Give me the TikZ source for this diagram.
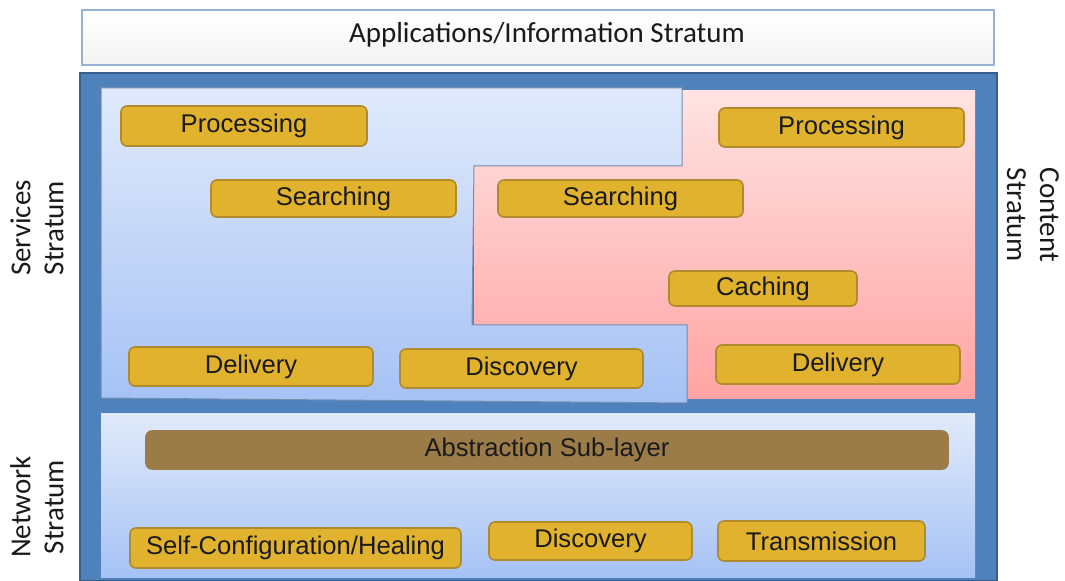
\documentclass[tikz,border=0pt]{standalone}
\usepackage{fontspec}
\newfontfamily\calfont{Carlito}
\newfontfamily\arialfont{Liberation Sans}
\usepackage{tikz}
\definecolor{frameblue}{HTML}{4F81BD}
\definecolor{frameline}{HTML}{385D8A}
\definecolor{paleblue}{HTML}{E1EAFB}
\definecolor{skyblue}{HTML}{A5C2F5}
\definecolor{palepink}{HTML}{FFE3E3}
\definecolor{rosepink}{HTML}{FFA3A3}
\definecolor{tileyellow}{HTML}{E0B22E}
\definecolor{tileline}{HTML}{B08A2C}
\definecolor{barbrown}{HTML}{9B7B48}
\definecolor{inkgray}{HTML}{1A1A1A}
\newcommand{\Frame}{(80,73) rectangle (997,581)}
\newcommand{\Content}{(474,91) rectangle (975,399)}
\newcommand{\Services}{(101,88) -- (682,88) -- (682,166) -- (474,166) -- (472,325) -- (687,325) -- (687,403) -- (101,398) -- cycle}
\newcommand{\Network}{(101,414) rectangle (975,578)}

\tikzset{
  tile/.style={draw=tileline, fill=tileyellow, line width=0.8pt, rounded corners=3pt,
    inner sep=0pt, text=inkgray, font=\arialfont\fontsize{12.8}{14}\selectfont},
  stratum/.style={text=inkgray, align=center, font=\calfont\fontsize{14.5}{16.5}\selectfont}
}

\begin{document}
\begin{tikzpicture}[x=0.5pt,y=-0.5pt]
\useasboundingbox (0,0) rectangle (1065,581);
% top stratum
\shade[top color=white, bottom color=black!5, draw=frameblue!60, line width=0.6pt] (82,10) rectangle (994,65);
\node[stratum] (apps) at (547,35) {Applications/Information Stratum};
% big frame
\fill[frameblue] \Frame;
\draw[frameline, line width=0.8pt] \Frame;
\shade[top color=palepink, bottom color=rosepink] \Content;
\shade[top color=paleblue, bottom color=skyblue, draw=frameline!70, line width=0.5pt] \Services;
\shade[top color=paleblue, bottom color=skyblue] \Network;
% services
\node[tile, minimum width=123pt, minimum height=20pt] (sproc) at (244,126) {Processing};
\node[tile, minimum width=122.5pt, minimum height=18.5pt] (ssearch) at (333.5,198.5) {Searching};
\node[tile, minimum width=122pt, minimum height=19.5pt] (sdeliv) at (251,366.5) {Delivery};
\node[tile, minimum width=121.5pt, minimum height=19.5pt] (sdisc) at (521.5,368.5) {Discovery};
% content
\node[tile, minimum width=122.5pt, minimum height=19.5pt] (cproc) at (841.5,127.5) {Processing};
\node[tile, minimum width=122.5pt, minimum height=18.5pt] (csearch) at (620.5,198.5) {Searching};
\node[tile, minimum width=94pt, minimum height=17.5pt] (ccache) at (763,288.5) {Caching};
\node[tile, minimum width=122pt, minimum height=19.5pt] (cdeliv) at (838,364.5) {Delivery};
% network
\node[tile, fill=barbrown, draw=barbrown, minimum width=401pt, minimum height=19pt] (abstr) at (547,450) {Abstraction Sub-layer};
\node[tile, minimum width=165.5pt, minimum height=20pt] (nself) at (295.5,548) {Self-Configuration/Healing};
\node[tile, minimum width=101.5pt, minimum height=19pt] (ndisc) at (590.5,541) {Discovery};
\node[tile, minimum width=103.5pt, minimum height=20pt] (ntrans) at (821.5,541) {Transmission};
% side labels
\node[stratum, rotate=90] (srvlab) at (37,228) {Services\\Stratum};
\node[stratum, rotate=90] (netlab) at (37,507) {Network\\Stratum};
\node[stratum, rotate=-90] (cntlab) at (1033,215) {Content\\Stratum};
\end{tikzpicture}
\end{document}
